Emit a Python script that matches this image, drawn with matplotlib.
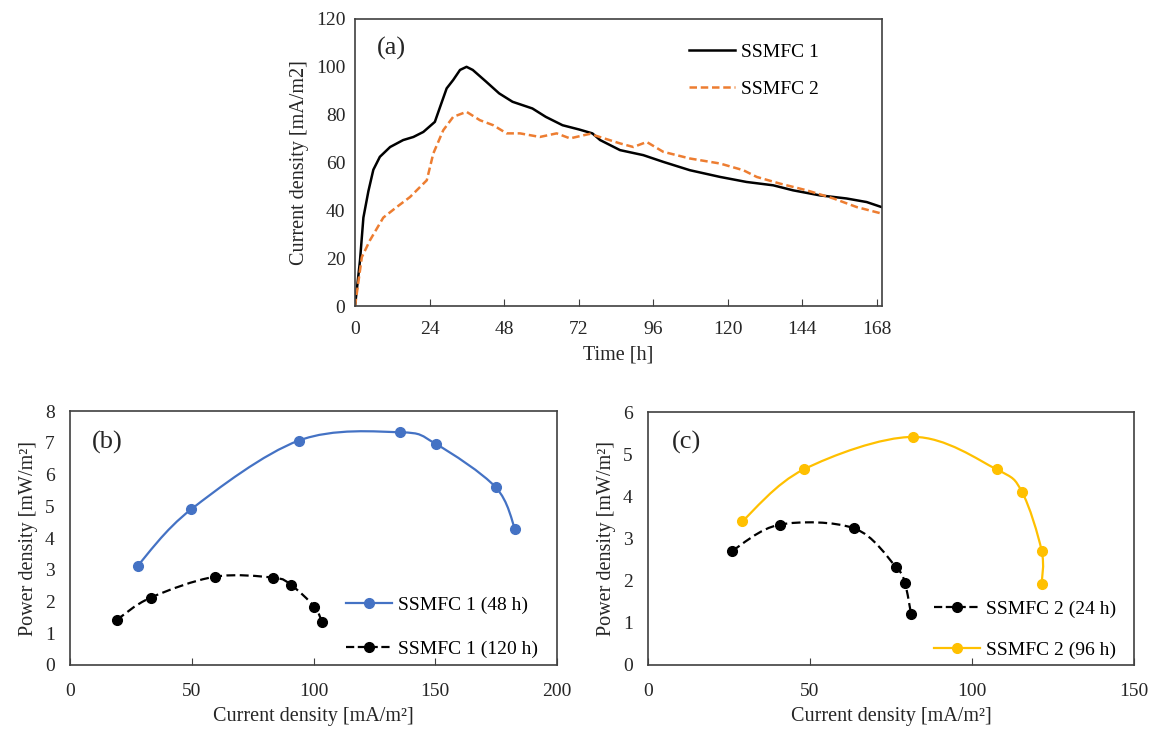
import numpy as np
import matplotlib
matplotlib.use("Agg")
import matplotlib.pyplot as plt
from matplotlib.path import Path
from matplotlib.patches import PathPatch

plt.rcParams['font.family'] = ['Liberation Serif', 'DejaVu Serif']
plt.rcParams['font.size'] = 14

# (a) current density vs time
t1 = [0, 1.6, 2.7, 4.3, 5.9, 8.0, 11.3, 15.5, 18.8, 22.0, 25.7, 27.4, 29.5, 31.6, 33.8, 35.9,
      37.9, 42.2, 46.4, 50.7, 57.1, 61.4, 66.8, 72.2, 76.4, 78.9, 85.3, 92.8, 99.2, 107.8,
      117.5, 126, 134.6, 141, 149.6, 158.2, 164.7, 169.5]
v1 = [0, 19, 37, 48, 57, 62.4, 66.5, 69.4, 70.7, 72.8, 77, 83.3, 91, 94.5, 98.7, 100,
      98.7, 93.8, 88.9, 85.4, 82.6, 79.1, 75.6, 73.8, 72.2, 69.4, 65.2, 63.1, 60.3, 56.8,
      54, 51.9, 50.5, 48.4, 46.3, 45, 43.5, 41.4]
t2 = [0, 2.2, 4.8, 9.1, 13.4, 17.7, 23.1, 25.2, 28.4, 31.6, 35.9, 40.2, 44.5, 48.8, 53.1,
      59.5, 64.9, 69.2, 75.6, 85.3, 89.6, 93.9, 99.2, 107.8, 117.5, 125, 129.3, 136.8,
      145.4, 154, 161.5, 169.5]
v2 = [0, 20.5, 27.5, 37, 41.4, 45.6, 52.6, 63.8, 73.5, 79.1, 81.2, 77.7, 75.6, 72.2, 72.2,
      70.7, 72.2, 70.1, 72, 68, 66.5, 68.6, 64.5, 61.7, 59.6, 56.8, 54, 51.2,
      48.4, 45, 41.4, 38.7]

# (b) SSMFC 1 power curves
b48_x = [27.8, 49.7, 94.0, 135.5, 150.3, 174.8, 182.8]
b48_y = [3.13, 4.90, 7.07, 7.33, 6.96, 5.60, 4.27]
b120_x = [19.2, 33.1, 59.5, 83.5, 90.8, 100.3, 103.5]
b120_y = [1.42, 2.12, 2.78, 2.75, 2.52, 1.84, 1.36]

# (c) SSMFC 2 power curves
c24_x = [26.0, 40.7, 63.7, 76.5, 79.3, 81.2]
c24_y = [2.71, 3.33, 3.24, 2.33, 1.94, 1.21]
c96_x = [29.1, 48.1, 81.9, 107.6, 115.4, 121.5, 121.5]
c96_y = [3.41, 4.64, 5.41, 4.64, 4.11, 2.71, 1.92]

BLUE = '#4472C4'
YELLOW = '#FFC000'
ORANGE = '#ED7D31'
TXT = '#262626'
LAB = 14.5


def smooth(ax, xs, ys, color, ls):
    # Excel-style smoothed line as bezier path through the points
    p = np.column_stack([xs, ys])
    n = len(p)
    verts = [p[0]]
    codes = [Path.MOVETO]
    for i in range(n - 1):
        p0 = p[i - 1] if i > 0 else p[i]
        p1 = p[i]
        p2 = p[i + 1]
        p3 = p[i + 2] if i + 2 < n else p[i + 1]
        verts += [p1 + (p2 - p0) / 6, p2 - (p3 - p1) / 6, p2]
        codes += [Path.CURVE4] * 3
    ax.add_patch(PathPatch(Path(verts, codes), fill=False, edgecolor=color, lw=1.6, linestyle=ls))


def style(ax, xpad, ypad):
    for s in ax.spines.values():
        s.set_color('#404040')
        s.set_linewidth(1.2)
    ax.tick_params(axis='x', direction='in', length=5, color='#404040', labelcolor=TXT, pad=xpad)
    ax.tick_params(axis='y', length=0, labelcolor=TXT, pad=ypad)


fig = plt.figure(figsize=(11.53, 7.29), dpi=100)

ax1 = fig.add_axes([0.3079, 0.580, 0.457, 0.394])
ax1.plot(t1, v1, color='black', lw=1.8, label='SSMFC 1')
ax1.plot(t2, v2, color=ORANGE, lw=1.8, ls=(0, (3, 1.5)), label='SSMFC 2')
ax1.set_xlim(0, 169.6)
ax1.set_ylim(0, 120)
ax1.set_xticks(np.arange(0, 169, 24))
ax1.set_yticks(np.arange(0, 121, 20))
ax1.set_xlabel('Time [h]', color=TXT, fontsize=LAB, labelpad=5)
ax1.set_ylabel('Current density [mA/m2]', color=TXT, fontsize=LAB, labelpad=5)
ax1.text(0.042, 0.899, '(a)', transform=ax1.transAxes, fontsize=19, va='center', color=TXT)
ax1.legend(loc='upper left', bbox_to_anchor=(0.6, 0.975), frameon=False, handlelength=2.4,
           handletextpad=0.3, labelspacing=1.0, fontsize=14)
style(ax1, 11, 7)

ax2 = fig.add_axes([0.0607, 0.0878, 0.4224, 0.3484])
smooth(ax2, b48_x, b48_y, BLUE, '-')
smooth(ax2, b120_x, b120_y, 'black', (0, (4, 2)))
ax2.plot(b48_x, b48_y, 'o', color=BLUE, ms=7)
ax2.plot(b120_x, b120_y, 'o', color='black', ms=7)
ax2.plot([], [], '-o', color=BLUE, ms=7, lw=1.6, label='SSMFC 1 (48 h)')
ax2.plot([], [], '--o', color='black', ms=7, lw=1.6, label='SSMFC 1 (120 h)')
ax2.set_xlim(0, 200)
ax2.set_ylim(0, 8)
ax2.set_xticks([0, 50, 100, 150, 200])
ax2.set_yticks(range(0, 9))
ax2.set_xlabel('Current density [mA/m²]', color=TXT, fontsize=LAB, labelpad=5)
ax2.set_ylabel('Power density [mW/m²]', color=TXT, fontsize=LAB, labelpad=5)
ax2.text(0.045, 0.878, '(b)', transform=ax2.transAxes, fontsize=19, va='center', color=TXT)
ax2.legend(loc='lower left', bbox_to_anchor=(0.53, -0.04), frameon=False, handlelength=2.4,
           handletextpad=0.3, labelspacing=1.35, fontsize=14)
style(ax2, 13, 11)

ax3 = fig.add_axes([0.562, 0.0878, 0.4215, 0.347])
smooth(ax3, c24_x, c24_y, 'black', (0, (4, 2)))
smooth(ax3, c96_x, c96_y, YELLOW, '-')
ax3.plot(c24_x, c24_y, 'o', color='black', ms=7)
ax3.plot(c96_x, c96_y, 'o', color=YELLOW, ms=7)
ax3.plot([], [], '--o', color='black', ms=7, lw=1.6, label='SSMFC 2 (24 h)')
ax3.plot([], [], '-o', color=YELLOW, ms=7, lw=1.6, label='SSMFC 2 (96 h)')
ax3.set_xlim(0, 150)
ax3.set_ylim(0, 6)
ax3.set_xticks([0, 50, 100, 150])
ax3.set_yticks(range(0, 7))
ax3.set_xlabel('Current density [mA/m²]', color=TXT, fontsize=LAB, labelpad=5)
ax3.set_ylabel('Power density [mW/m²]', color=TXT, fontsize=LAB, labelpad=5)
ax3.text(0.049, 0.878, '(c)', transform=ax3.transAxes, fontsize=19, va='center', color=TXT)
ax3.legend(loc='lower left', bbox_to_anchor=(0.552, -0.045), frameon=False, handlelength=2.4,
           handletextpad=0.3, labelspacing=1.2, fontsize=14)
style(ax3, 13, 11)

fig.savefig('out.png', dpi=100)
